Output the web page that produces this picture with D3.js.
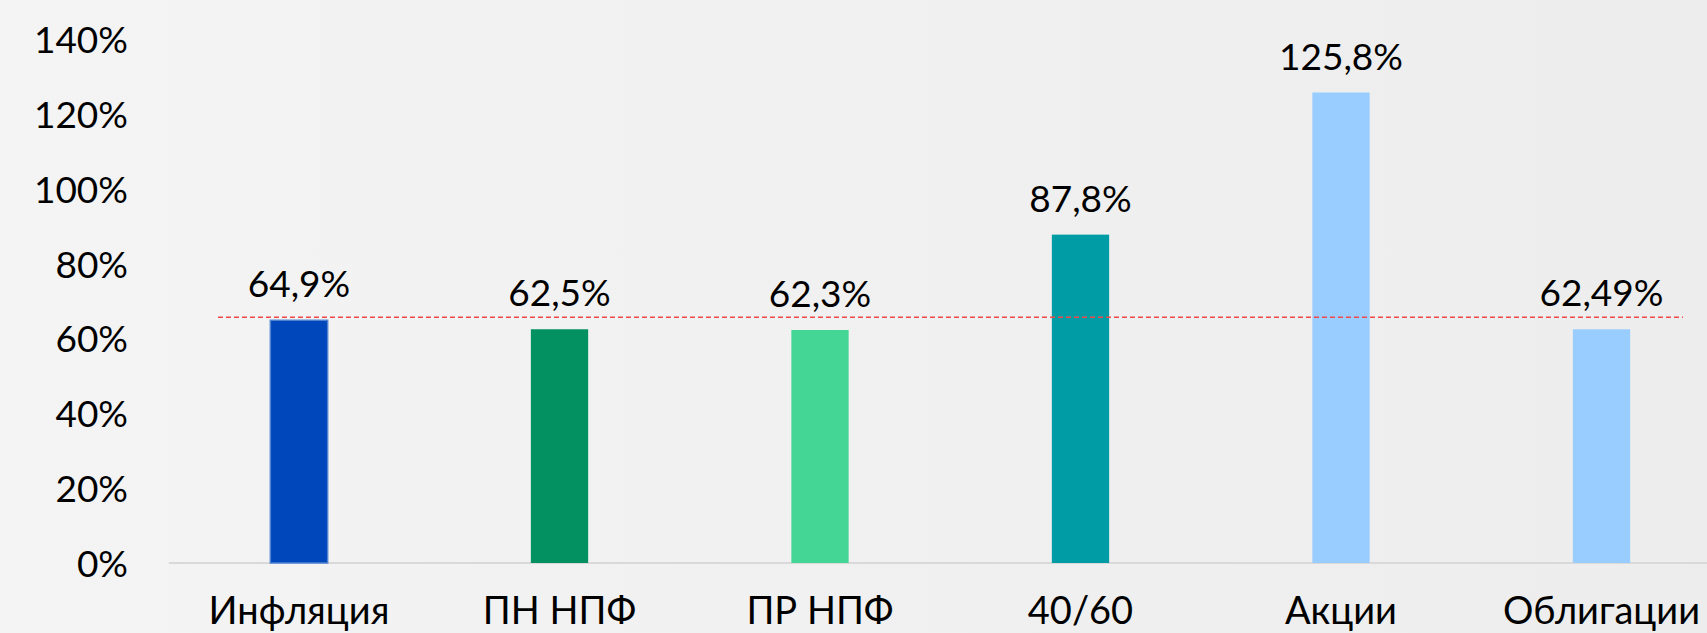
<!DOCTYPE html>
<html>
<head>
<meta charset="utf-8">
<script src="https://cdnjs.cloudflare.com/ajax/libs/d3/7.8.5/d3.min.js"></script>
<style>
  html, body { margin: 0; padding: 0; background: #f2f2f2; overflow: hidden; }
  .graph text { font-family: Lato, "Open Sans", sans-serif; fill: #000; }
</style>
</head>
<body>
<div class="graph"></div>
<script>
  // доходность за период, %
  var categories = ['Инфляция', 'ПН НПФ', 'ПР НПФ', '40/60', 'Акции', 'Облигации'];
  var values = [64.9, 62.5, 62.3, 87.8, 125.8, 62.49];
  var valueLabels = ['64,9%', '62,5%', '62,3%', '87,8%', '125,8%', '62,49%'];
  var colors = ['#0047bb', '#039162', '#43d694', '#009ca6', '#99ccff', '#99ccff'];
  var yTicks = [0, 20, 40, 60, 80, 100, 120, 140];
  var inflationLine = 65.7; // red dashed line level

  var width = 1707, height = 633;
  var margin = {top: 39.4, left: 168.75, bottom: 70};
  var step = 260.5;

  var svg = d3.select(".graph").append("svg")
      .attr("width", width)
      .attr("height", height);

  // soft background, a bit darker to the right
  var grad = svg.append("defs").append("linearGradient")
      .attr("id", "bg")
      .attr("x1", 0).attr("x2", 1).attr("y1", 0).attr("y2", 0);
  grad.append("stop").attr("offset", 0).attr("stop-color", "#f4f4f4");
  grad.append("stop").attr("offset", 1).attr("stop-color", "#ededed");

  svg.append("rect")
      .attr("width", width)
      .attr("height", height)
      .attr("fill", "url(#bg)");

  var x = d3.scaleBand()
      .domain(categories)
      .range([margin.left, margin.left + step * categories.length])
      .paddingInner(0.78)
      .paddingOuter(0.39);

  var y = d3.scaleLinear()
      .domain([0, 140])
      .range([height - margin.bottom, margin.top]);

  // y axis labels, no line
  var yAxis = d3.axisLeft(y)
      .tickValues(yTicks)
      .tickSize(0)
      .tickPadding(0)
      .tickFormat(function(d) { return d + '%'; });

  svg.append("g")
      .attr("class", "y axis")
      .attr("transform", "translate(128,0)")
      .call(yAxis)
      .call(function(g) { g.select(".domain").remove(); })
      .selectAll("text")
      .attr("font-size", 37)
      .attr("font-family", null)
      .attr("dy", "0.36em");

  // baseline
  svg.append("line")
      .attr("x1", margin.left)
      .attr("x2", margin.left + step * categories.length)
      .attr("y1", y(0))
      .attr("y2", y(0))
      .attr("stroke", "#d9d9d9")
      .attr("stroke-width", 2);

  var bars = svg.selectAll(".bar")
      .data(values)
      .enter().append("rect")
      .attr("class", "bar")
      .attr("x", function(d, i) { return x(categories[i]); })
      .attr("width", x.bandwidth())
      .attr("y", function(d) { return y(d); })
      .attr("height", function(d) { return y(0) - y(d); })
      .style("fill", function(d, i) { return colors[i]; });

  // the inflation bar has a lighter outline
  bars.filter(function(d, i) { return i === 0; })
      .attr("stroke", "#4f82d2")
      .attr("stroke-width", 1.5);

  svg.selectAll(".value")
      .data(values)
      .enter().append("text")
      .attr("class", "value")
      .attr("x", function(d, i) { return x(categories[i]) + x.bandwidth() / 2; })
      .attr("y", function(d) { return y(d) - 23; })
      .attr("text-anchor", "middle")
      .attr("font-size", 37)
      .text(function(d, i) { return valueLabels[i]; });

  svg.selectAll(".category")
      .data(categories)
      .enter().append("text")
      .attr("class", "category")
      .attr("x", function(d) { return x(d) + x.bandwidth() / 2; })
      .attr("y", y(0) + 61)
      .attr("text-anchor", "middle")
      .attr("font-size", 38)
      .text(function(d) { return d; });

  svg.append("line")
      .attr("x1", 218)
      .attr("x2", 1683)
      .attr("y1", y(inflationLine))
      .attr("y2", y(inflationLine))
      .attr("stroke", "#f24848")
      .attr("stroke-width", 1.6)
      .attr("stroke-dasharray", "5,3");
</script>
</body>
</html>
